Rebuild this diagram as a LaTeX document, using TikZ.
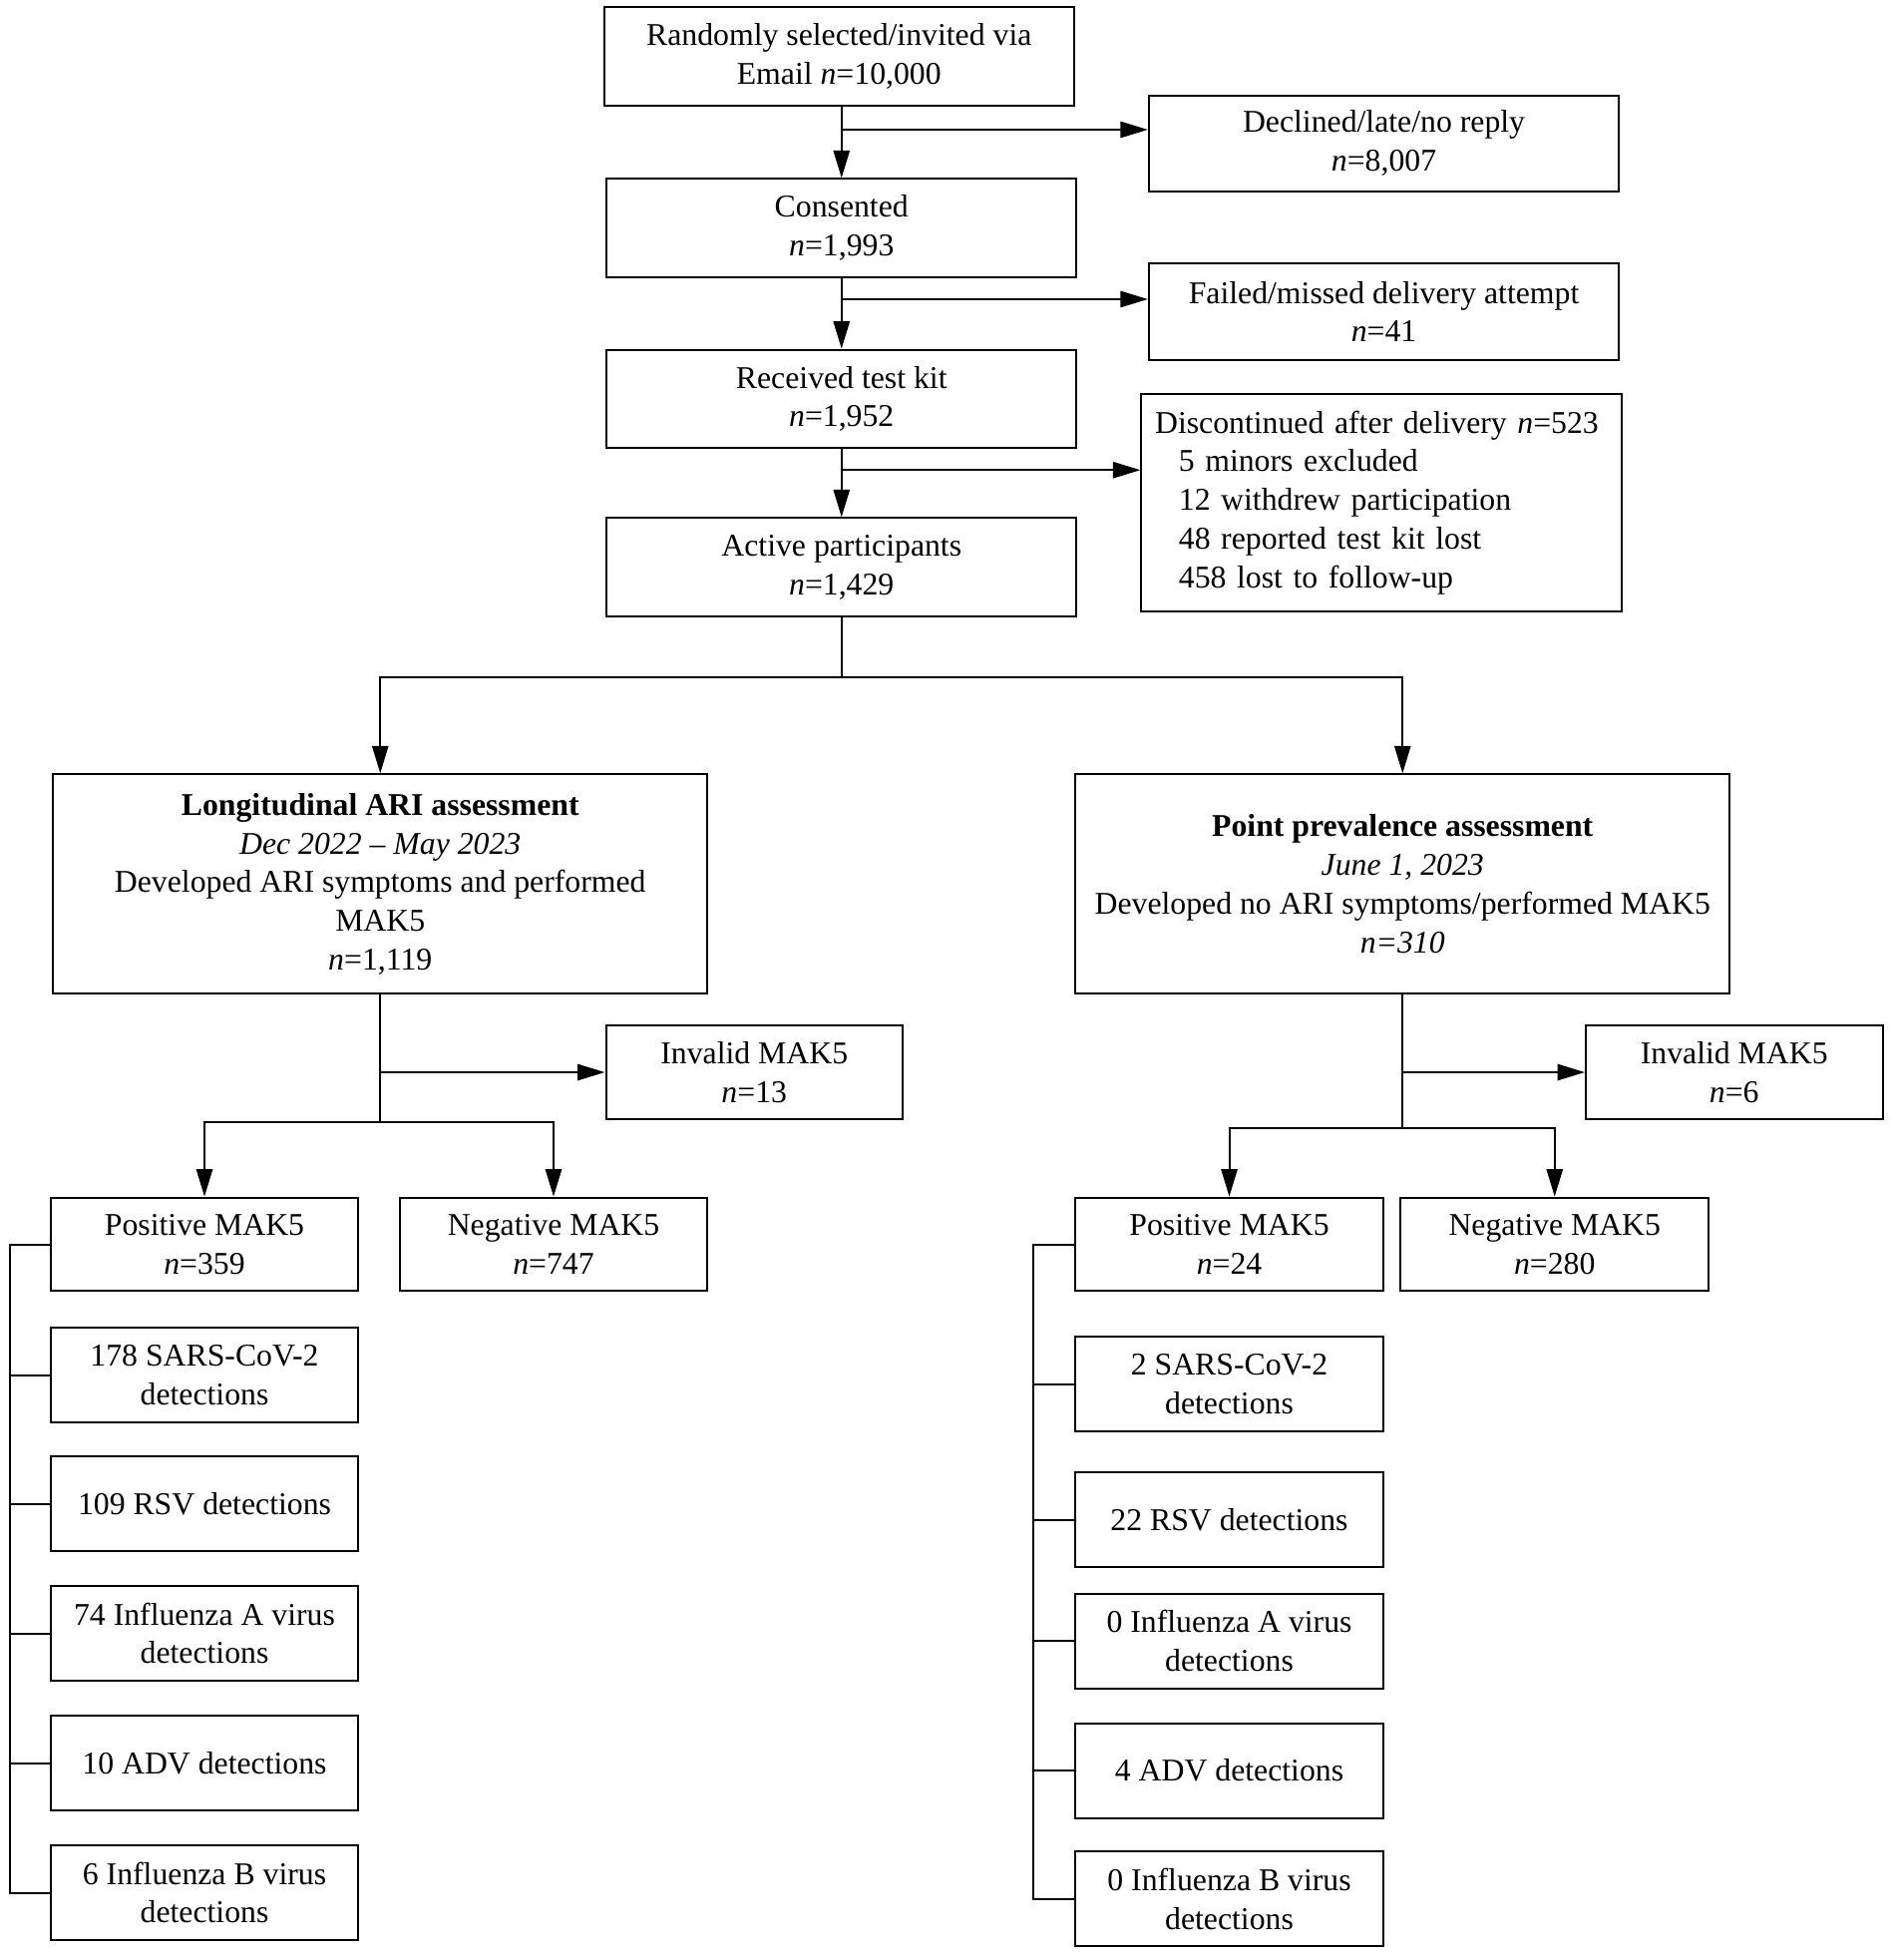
\documentclass[tikz,border=0pt]{standalone}
\usepackage{fontspec}
\setmainfont{Liberation Serif}
\usetikzlibrary{arrows.meta}

\begin{document}
\begin{tikzpicture}[
    x=0.5pt, y=-0.5pt,
    nodes={font=\fontsize{12.7}{15.5}\selectfont},
    box/.style={%
        draw=black, line width=0.8pt, align=center,
        inner sep=2pt},
    mainbox/.style={box, minimum width=188.5pt, minimum height=39.5pt},
    sidebox/.style={box, minimum width=188.5pt, minimum height=38.5pt},
    armbox/.style={box, minimum width=262.5pt, minimum height=88pt},
    invbox/.style={box, minimum width=119pt, minimum height=37.5pt},
    resbox/.style={box, minimum width=123.5pt, minimum height=37.5pt},
    virbox/.style={box, minimum width=123.5pt, minimum height=38pt},
    arr/.style={line width=0.8pt, -{Triangle[length=11pt,width=6.5pt]}},
    link/.style={line width=0.8pt},
]
    \useasboundingbox (0,0) rectangle (1521.6,1572);
    % Enrolment
    \node[mainbox] (rand) at (673,45) {Randomly selected/invited via\\Email \textit{n}=10,000};
    \node[mainbox] (cons) at (675,183) {Consented\\\textit{n}=1,993};
    \node[mainbox] (recv) at (675,320) {Received test kit\\\textit{n}=1,952};
    \node[mainbox] (act) at (675,455) {Active participants\\\textit{n}=1,429};
    % Exclusions
    \node[sidebox] (decl) at (1110,115) {Declined/late/no reply\\\textit{n}=8,007};
    \node[sidebox] (fail) at (1110,250) {Failed/missed delivery attempt\\\textit{n}=41};
    \node[box, text width=181.5pt, align=left, inner xsep=5.5pt,
        minimum height=87pt] (disc) at (1108,403)
        {Discontinued after delivery \textit{n}=523\\
        \hspace*{9.5pt}5 minors excluded\\
        \hspace*{9.5pt}12 withdrew participation\\
        \hspace*{9.5pt}48 reported test kit lost\\
        \hspace*{9.5pt}458 lost to follow-up};
    \draw[arr] (cons.north |- rand.south) -- (cons);
    \draw[arr] (cons) -- (recv);
    \draw[arr] (recv) -- (act);
    \coordinate (b1) at (675,104);
    \coordinate (b2) at (675,240);
    \coordinate (b3) at (675,377);
    \draw[arr] (b1) -- (b1 -| decl.west);
    \draw[arr] (b2) -- (b2 -| fail.west);
    \draw[arr] (b3) -- (b3 -| disc.west);
    % Study arms
    \node[armbox] (long) at (305,709) {\textbf{Longitudinal ARI assessment}\\
        \textit{Dec 2022 -- May 2023}\\Developed ARI symptoms and performed\\MAK5\\\textit{n}=1,119};
    \node[armbox] (point) at (1125,709) {\textbf{Point prevalence assessment}\\
        \textit{June 1, 2023}\\Developed no ARI symptoms/performed MAK5\\\textit{n=310}};
    \coordinate (split) at (675,543);
    \draw[link] (act) -- (split);
    \draw[arr] (split) -| (long);
    \draw[arr] (split) -| (point);
    % Longitudinal results
    \node[invbox] (linv) at (605,860) {Invalid MAK5\\\textit{n}=13};
    \node[resbox] (lpos) at (164,998) {Positive MAK5\\\textit{n}=359};
    \node[resbox] (lneg) at (444,998) {Negative MAK5\\\textit{n}=747};
    \node[virbox] (lsars) at (164,1103) {178 SARS-CoV-2\\detections};
    \node[virbox] (lrsv) at (164,1206) {109 RSV detections};
    \node[virbox] (linfa) at (164,1310) {74 Influenza A virus\\detections};
    \node[virbox] (ladv) at (164,1414) {10 ADV detections};
    \node[virbox] (linfb) at (164,1518) {6 Influenza B virus\\detections};
    \coordinate (lbr) at (305,860);
    \coordinate (lfork) at (305,900);
    \draw[link] (long) -- (lfork);
    \draw[arr] (lbr) -- (lbr -| linv.west);
    \draw[arr] (lfork) -| (lpos);
    \draw[arr] (lfork) -| (lneg);
    \coordinate (lrail) at (8,998);
    \draw[link] (lpos.west) -- (lpos.west -| lrail) -- (linfb.west -| lrail) -- (linfb.west);
    \foreach \v in {lsars,lrsv,linfa,ladv}
        \draw[link] (\v.west) -- (\v.west -| lrail);
    % Point prevalence results
    \node[invbox] (rinv) at (1391,860) {Invalid MAK5\\\textit{n}=6};
    \node[resbox] (rpos) at (986,998) {Positive MAK5\\\textit{n}=24};
    \node[resbox] (rneg) at (1247,998) {Negative MAK5\\\textit{n}=280};
    \node[virbox] (rsars) at (986,1110) {2 SARS-CoV-2\\detections};
    \node[virbox] (rrsv) at (986,1219) {22 RSV detections};
    \node[virbox] (rinfa) at (986,1316) {0 Influenza A virus\\detections};
    \node[virbox] (radv) at (986,1420) {4 ADV detections};
    \node[virbox] (rinfb) at (986,1523) {0 Influenza B virus\\detections};
    \coordinate (rbr) at (1125,860);
    \coordinate (rfork) at (1125,905);
    \draw[link] (point) -- (rfork);
    \draw[arr] (rbr) -- (rbr -| rinv.west);
    \draw[arr] (rfork) -| (rpos);
    \draw[arr] (rfork) -| (rneg);
    \coordinate (rrail) at (829,998);
    \draw[link] (rpos.west) -- (rpos.west -| rrail) -- (rinfb.west -| rrail) -- (rinfb.west);
    \foreach \v in {rsars,rrsv,rinfa,radv}
        \draw[link] (\v.west) -- (\v.west -| rrail);
\end{tikzpicture}
\end{document}
